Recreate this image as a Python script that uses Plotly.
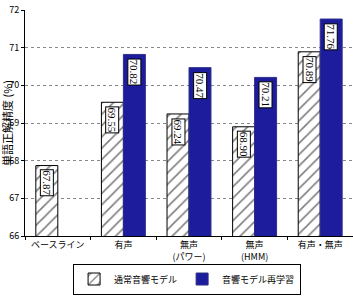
import plotly.graph_objects as go

categories = ["ベースライン", "有声", "無声<br>(パワー)", "無声<br>(HMM)", "有声・無声"]
normal_vals = [67.87, 69.55, 69.24, 68.90, 70.89]
retrain_vals = [None, 70.82, 70.47, 70.21, 71.76]
series_names = ["通常音響モデル", "音響モデル再学習"]
y_ticks = [66, 67, 68, 69, 70, 71, 72]

navy = "#1c1c9c"
fig = go.Figure()
fig.add_trace(go.Bar(
    x=categories, y=normal_vals, name=series_names[0],
    marker=dict(color="white", line=dict(color="black", width=1),
                pattern=dict(shape="/", fgcolor="black", bgcolor="white", size=8, solidity=0.2)),
    offsetgroup="a",
))
fig.add_trace(go.Bar(
    x=categories, y=retrain_vals, name=series_names[1],
    marker=dict(color=navy, line=dict(color="#30308a", width=1)),
    offsetgroup="b",
))

for i, c in enumerate(categories):
    for vals, shift in ((normal_vals, -11), (retrain_vals, 11)):
        v = vals[i]
        if v is None:
            continue
        fig.add_annotation(
            x=c, y=v, xref="x", yref="y", text=f"{v:.2f}", showarrow=False,
            textangle=90, xshift=shift, yshift=-4, yanchor="top", xanchor="center",
            font=dict(family="Liberation Serif", size=11, color="black"),
            bgcolor="white", bordercolor="black", borderwidth=1, borderpad=0,
        )

fig.add_annotation(
    x=0, y=0.5, xref="paper", yref="paper", xshift=-18, text="単語正解精度 (%)",
    showarrow=False, textangle=-90, xanchor="center", yanchor="middle",
    font=dict(size=11, color="black"),
)

fig.update_layout(
    width=353, height=296,
    margin=dict(l=25, r=0, t=10, b=60, autoexpand=False),
    paper_bgcolor="white", plot_bgcolor="white",
    barmode="group", bargap=0.33, bargroupgap=0,
    font=dict(family="Noto Sans CJK JP", size=9, color="black"),
    showlegend=True,
    legend=dict(orientation="h", x=0.53, xanchor="center", xref="container",
                y=0.005, yanchor="bottom", yref="container",
                bordercolor="black", borderwidth=1, font=dict(size=9),
                itemwidth=30, tracegroupgap=0),
    yaxis=dict(range=[66, 72], tickvals=y_ticks, showgrid=True, automargin=False,
               gridcolor="#888", griddash="dot", gridwidth=1,
               showline=True, linecolor="black", linewidth=1,
               ticks="outside", ticklen=3, tickcolor="black"),
    xaxis=dict(showline=True, linecolor="black", linewidth=1, automargin=False,
               ticks="outside", tickson="boundaries", ticklen=3, tickcolor="black",
               tickangle=0),
)
fig.write_html("out.html")
